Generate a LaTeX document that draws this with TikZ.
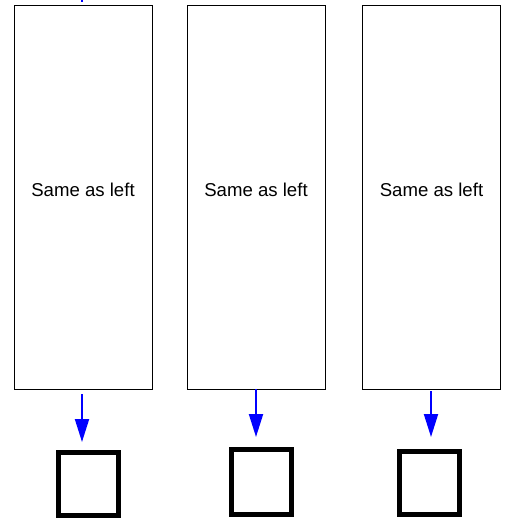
\documentclass[tikz,border=0pt]{standalone}
\usepackage{fontspec}
\setmainfont{Liberation Sans}
\usetikzlibrary{arrows.meta}
\begin{document}
\begin{tikzpicture}[x=1pt,y=-1pt,
  tall/.style={draw=black,line width=1pt,minimum width=138pt,minimum height=383pt,inner sep=0pt},
  lbl/.style={font=\fontsize{18.6}{22}\selectfont,text=black,inner sep=0pt},
  sq/.style={draw=black,line width=5pt,inner sep=0pt,minimum width=60pt,minimum height=63pt},
  flow/.style={draw=blue,line width=2pt,-{Triangle[length=23pt,width=14pt]},shorten >=0pt}]
\useasboundingbox (0,0) rectangle (512,518);
\node[tall] (r1) at (83,197.5) {};
\node[tall] (r2) at (256,197.5) {};
\node[tall] (r3) at (431.5,197.5) {};
\node[lbl] (l1) at ([yshift=8pt]r1.center) {Same as left};
\node[lbl] (l2) at ([yshift=8pt]r2.center) {Same as left};
\node[lbl] (l3) at ([yshift=8pt]r3.center) {Same as left};
\node[sq] (s1) at (88.25,484.25) {};
\node[sq, minimum height=65pt] (s2) at (261.5,482) {};
\node[sq, minimum height=63pt] (s3) at (429.5,483) {};
\coordinate (a1s) at (82,394);
\coordinate (a1e) at (82,442);
\coordinate (a2s) at (256,389);
\coordinate (a2e) at (256,437);
\coordinate (a3s) at (431,391);
\coordinate (a3e) at (431,437);
\draw[flow] (a1s) -- (a1e);
\draw[flow] (a2s) -- (a2e);
\draw[flow] (a3s) -- (a3e);
\coordinate (t0) at (82,-2);
\coordinate (t1) at (82,2);
\draw[blue,line width=2pt] (t0) -- (t1);
\end{tikzpicture}
\end{document}
